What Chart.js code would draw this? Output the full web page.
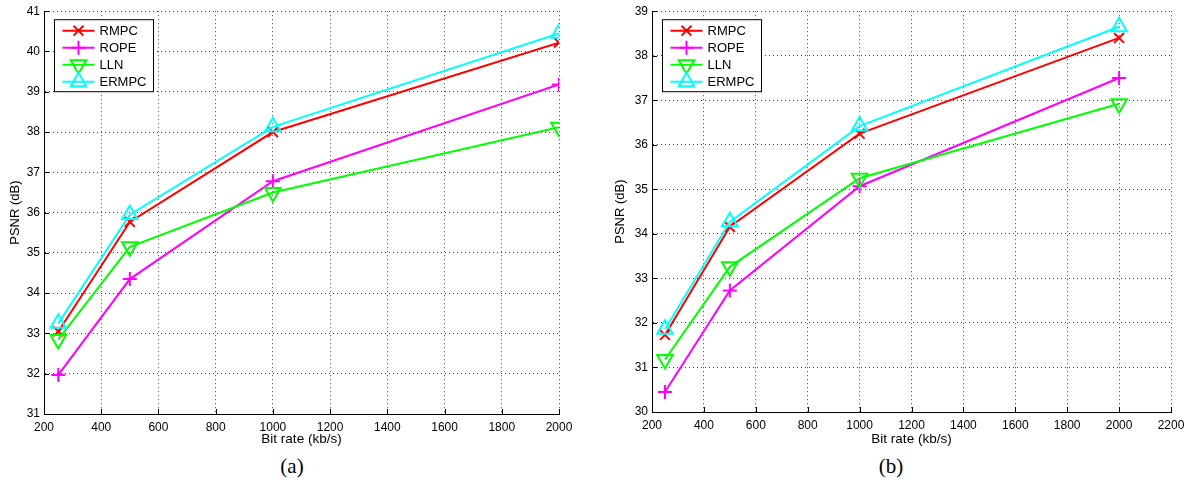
<!DOCTYPE html>
<html>
<head>
<meta charset="utf-8">
<script src="https://cdn.jsdelivr.net/npm/chart.js@4/dist/chart.umd.min.js"></script>
<style>
  body { margin: 0; background: #fff; width: 1192px; height: 493px; position: relative; overflow: hidden; }
  canvas { position: absolute; top: 0; }
  #chartA { left: 0; }
  #chartB { left: 590px; }
  .cap { position: absolute; top: 454px; font-family: "Liberation Serif", "Times New Roman", serif; font-size: 21px; color: #000; transform: translateX(-50%); }
</style>
</head>
<body>
<canvas id="chartA" width="590" height="450"></canvas>
<canvas id="chartB" width="602" height="450"></canvas>
<div class="cap" style="left:292px">(a)</div>
<div class="cap" style="left:891px">(b)</div>
<script>
// x positions (kb/s)
const bitRate = [250, 500, 1000, 2000];
const seriesNames = ["RMPC", "ROPE", "LLN", "ERMPC"];

// (a)
const rmpcA = [33.05, 35.77, 38.0, 40.22];
const ropeA = [31.97, 34.35, 36.78, 39.18];
const llnA = [32.85, 35.15, 36.5, 38.12];
const ermpcA = [33.25, 35.95, 38.13, 40.45];
const xTicksA = [200, 400, 600, 800, 1000, 1200, 1400, 1600, 1800, 2000];
const yTicksA = [31, 32, 33, 34, 35, 36, 37, 38, 39, 40, 41];

// (b)
const rmpcB = [31.73, 34.16, 36.25, 38.4];
const ropeB = [30.45, 32.73, 35.07, 37.5];
const llnB = [31.18, 33.26, 35.25, 36.92];
const ermpcB = [31.86, 34.27, 36.42, 38.65];
const xTicksB = [200, 400, 600, 800, 1000, 1200, 1400, 1600, 1800, 2000, 2200];
const yTicksB = [30, 31, 32, 33, 34, 35, 36, 37, 38, 39];

const colors = ["#ff0000", "#ff00ff", "#00ff00", "#00ffff"];
const markers = [
  { style: "crossRot", radius: 7, rotation: 0 },
  { style: "cross", radius: 7, rotation: 0 },
  { style: "triangle", radius: 9, rotation: 180 },
  { style: "triangle", radius: 9, rotation: 0 },
];
const FONT = "'Liberation Sans', Arial, Helvetica, sans-serif";

function drawMarker(ctx, m, x, y) {
  const r = m.radius;
  ctx.beginPath();
  if (m.style === "cross") {
    ctx.moveTo(x - r, y); ctx.lineTo(x + r, y);
    ctx.moveTo(x, y - r); ctx.lineTo(x, y + r);
  } else if (m.style === "crossRot") {
    const d = r * Math.SQRT1_2;
    ctx.moveTo(x - d, y - d); ctx.lineTo(x + d, y + d);
    ctx.moveTo(x + d, y - d); ctx.lineTo(x - d, y + d);
  } else {
    let a = (m.rotation * Math.PI) / 180;
    ctx.moveTo(x + Math.sin(a) * r, y - Math.cos(a) * r);
    for (let k = 0; k < 2; k++) {
      a += (2 * Math.PI) / 3;
      ctx.lineTo(x + Math.sin(a) * r, y - Math.cos(a) * r);
    }
    ctx.closePath();
  }
  ctx.stroke();
}

// boxed legend in the upper left corner, MATLAB style
const boxLegend = {
  id: "boxLegend",
  afterDraw(chart) {
    const { ctx, chartArea } = chart;
    const x0 = chartArea.left + 10.5, y0 = chartArea.top + 8.5, w = 99, h = 72;
    ctx.save();
    ctx.fillStyle = "#fff";
    ctx.fillRect(x0, y0, w, h);
    ctx.strokeStyle = "#000";
    ctx.lineWidth = 1;
    ctx.strokeRect(x0, y0, w, h);
    ctx.font = "13px " + FONT;
    ctx.textBaseline = "middle";
    seriesNames.forEach((name, i) => {
      const y = y0 + 11 + i * 17;
      ctx.strokeStyle = colors[i];
      ctx.lineWidth = 2;
      ctx.beginPath();
      ctx.moveTo(x0 + 8, y);
      ctx.lineTo(x0 + 40, y);
      ctx.stroke();
      drawMarker(ctx, markers[i], x0 + 24, y);
      ctx.fillStyle = "#000";
      ctx.fillText(name, x0 + 45, y + 1);
    });
    ctx.restore();
  },
};

// short inward tick marks on the left and bottom axes
const inwardTicks = {
  id: "inwardTicks",
  afterDatasetsDraw(chart) {
    const { ctx, chartArea, scales } = chart;
    ctx.save();
    ctx.strokeStyle = "#000";
    ctx.lineWidth = 1;
    ctx.beginPath();
    scales.x.ticks.forEach((t) => {
      const px = Math.round(scales.x.getPixelForValue(t.value)) + 0.5;
      ctx.moveTo(px, chartArea.bottom);
      ctx.lineTo(px, chartArea.bottom - 5);
    });
    scales.y.ticks.forEach((t) => {
      const py = Math.round(scales.y.getPixelForValue(t.value)) + 0.5;
      ctx.moveTo(chartArea.left, py);
      ctx.lineTo(chartArea.left + 5, py);
    });
    ctx.stroke();
    ctx.restore();
  },
};

function makeDatasets(series) {
  return series.map((vals, i) => ({
    label: seriesNames[i],
    data: bitRate.map((x, j) => ({ x: x, y: vals[j] })),
    borderColor: colors[i],
    backgroundColor: colors[i],
    borderWidth: 2,
    pointStyle: markers[i].style,
    pointRadius: markers[i].radius,
    pointRotation: markers[i].rotation,
    pointBorderWidth: 2,
    pointBackgroundColor: "rgba(0,0,0,0)",
    pointBorderColor: colors[i],
    tension: 0,
    order: 4 - i,
  }));
}

function makeChart(id, series, xTicks, yTicks, cfg) {
  new Chart(document.getElementById(id), {
    type: "line",
    data: { datasets: makeDatasets(series) },
    options: {
      responsive: false,
      animation: false,
      devicePixelRatio: 1,
      layout: { padding: { top: cfg.top, right: cfg.right, left: 0, bottom: 0 } },
      plugins: { legend: { display: false }, tooltip: { enabled: false } },
      scales: {
        x: {
          type: "linear",
          min: xTicks[0],
          max: xTicks[xTicks.length - 1],
          afterBuildTicks: (s) => { s.ticks = xTicks.map((v) => ({ value: v })); },
          afterFit: (s) => { s.height = cfg.xHeight; },
          grid: { color: "rgba(0,0,0,0.75)", lineWidth: 1, drawTicks: false },
          border: { display: true, color: "#000", width: 1, dash: [1, 3] },
          ticks: { color: "#000", font: { family: FONT, size: 12 }, padding: 6, maxRotation: 0, autoSkip: false, callback: (v) => String(v) },
          title: { display: true, text: "Bit rate (kb/s)", color: "#000", font: { family: FONT, size: 13.5 }, padding: { bottom: 3, top: 0 } },
        },
        y: {
          type: "linear",
          min: yTicks[0],
          max: yTicks[yTicks.length - 1],
          afterBuildTicks: (s) => { s.ticks = yTicks.map((v) => ({ value: v })); },
          afterFit: (s) => { s.width = cfg.yWidth; },
          grid: { color: "rgba(0,0,0,0.75)", lineWidth: 1, drawTicks: false },
          border: { display: true, color: "#000", width: 1, dash: [1, 3] },
          ticks: { color: "#000", font: { family: FONT, size: 12 }, padding: 4, autoSkip: false, callback: (v) => String(v) },
          title: { display: true, text: "PSNR (dB)", color: "#000", font: { family: FONT, size: 13 }, padding: { top: cfg.yTitlePad, bottom: 0 } },
        },
      },
    },
    plugins: [inwardTicks, boxLegend],
  });
}

makeChart("chartA", [rmpcA, ropeA, llnA, ermpcA], xTicksA, yTicksA,
  { top: 7, right: 31, xHeight: 36, yWidth: 44, yTitlePad: 8 });
makeChart("chartB", [rmpcB, ropeB, llnB, ermpcB], xTicksB, yTicksB,
  { top: 6, right: 21, xHeight: 38, yWidth: 62, yTitlePad: 23 });
</script>
</body>
</html>
